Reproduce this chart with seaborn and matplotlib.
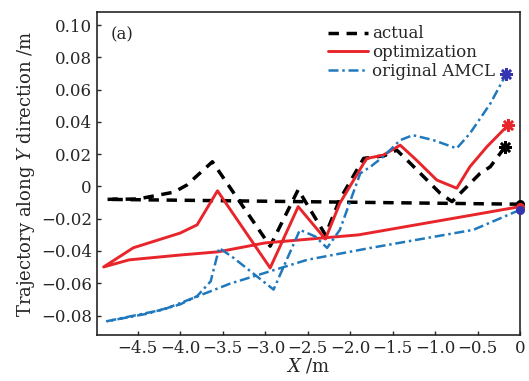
import matplotlib
matplotlib.use("Agg")
import matplotlib.pyplot as plt
import seaborn as sns

sns.set_style("ticks")
plt.rcParams["font.family"] = ["DejaVu Serif"]
plt.rcParams["mathtext.fontset"] = "dejavuserif"

# trajectories: start at x=0, go left along the straight leg, come back wiggling
actual_x = [0, -4.87, -4.5, -4.07, -3.92, -3.62, -2.94, -2.61, -2.29, -2.12,
            -1.84, -1.6, -1.45, -1.29, -0.94, -0.80, -0.47, -0.35, -0.18]
actual_y = [-0.011, -0.008, -0.0078, -0.0035, 0.0009, 0.0153, -0.037, -0.002, -0.030, -0.008,
            0.0174, 0.019, 0.0225, 0.0143, -0.0042, -0.0094, 0.0081, 0.0122, 0.0242]

optim_x = [0, -0.55, -1.9, -3.0, -3.55, -4.0, -4.6, -4.9,
           -4.55, -4.0, -3.80, -3.56, -3.38, -2.94, -2.61, -2.29, -2.12, -1.84, -1.80,
           -1.61, -1.41, -1.22, -0.98, -0.745, -0.59, -0.39, -0.14]
optim_y = [-0.0125, -0.0176, -0.030, -0.035, -0.0405, -0.0425, -0.0455, -0.0499,
           -0.038, -0.0289, -0.0238, -0.0027, -0.0166, -0.0505, -0.0125, -0.0326, -0.0104, 0.0143, 0.0174,
           0.0194, 0.0256, 0.0164, 0.004, -0.0011, 0.0122, 0.0246, 0.038]

amcl_x = [0, -0.55, -1.76, -2.5, -3.41, -4.19, -4.86,
          -4.39, -4.0, -3.8, -3.64, -3.54, -3.37, -2.90, -2.59, -2.41, -2.27, -2.12,
          -1.88, -1.76, -1.61, -1.41, -1.26, -1.02, -0.745, -0.59, -0.35, -0.16]
amcl_y = [-0.0145, -0.0269, -0.0381, -0.0454, -0.0602, -0.0762, -0.0835,
          -0.0789, -0.0731, -0.068, -0.0588, -0.0381, -0.0443, -0.0639, -0.0269, -0.031, -0.0381, -0.0269,
          0.0081, 0.0122, 0.0184, 0.0287, 0.0318, 0.0287, 0.0236, 0.0328, 0.0513, 0.0699]

x_ticks = [-4.5, -4.0, -3.5, -3.0, -2.5, -2.0, -1.5, -1.0, -0.5, 0]
x_labels = ["\u22124.5", "\u22124.0", "\u22123.5", "\u22123.0", "\u22122.5",
            "\u22122.0", "\u22121.5", "\u22121.0", "\u22120.5", "0"]
y_ticks = [-0.08, -0.06, -0.04, -0.02, 0, 0.02, 0.04, 0.06, 0.08, 0.10]
y_labels = ["\u22120.08", "\u22120.06", "\u22120.04", "\u22120.02", "0",
            "0.02", "0.04", "0.06", "0.08", "0.10"]

red = "#e8252a"
blue = "#2179bd"
star_blue = "#3535b0"

fig, ax = plt.subplots(figsize=(5.29, 3.81), dpi=100)
fig.subplots_adjust(left=0.183, right=0.983, top=0.968, bottom=0.121)

sns.lineplot(x=actual_x, y=actual_y, sort=False, estimator=None, ax=ax,
             color="black", linestyle=(0, (3, 2.2)), linewidth=2.5, label="actual")
sns.lineplot(x=optim_x, y=optim_y, sort=False, estimator=None, ax=ax,
             color=red, linestyle="-", linewidth=2.1, label="optimization")
sns.lineplot(x=amcl_x, y=amcl_y, sort=False, estimator=None, ax=ax,
             color=blue, linestyle=(0, (4, 1.5, 1, 1.5)), linewidth=1.8, label="original AMCL")

# start dots and end stars
for xs, ys, c in [(actual_x, actual_y, "black"),
                  (optim_x, optim_y, red),
                  (amcl_x, amcl_y, star_blue)]:
    ax.plot(xs[0], ys[0], "o", color=c, markersize=5.5, clip_on=False, zorder=5)
    ax.plot(xs[-1], ys[-1], marker=(8, 2, 0), color=c, markersize=9,
            markeredgewidth=1.8, clip_on=False, zorder=5)

ax.set_xlim(-4.98, 0)
ax.set_ylim(-0.092, 0.108)
ax.set_xticks(x_ticks)
ax.set_xticklabels(x_labels)
ax.set_yticks(y_ticks)
ax.set_yticklabels(y_labels)
ax.tick_params(direction="in", length=3, labelsize=12, width=1)
for s in ax.spines.values():
    s.set_linewidth(1.2)

ax.set_xlabel("$X$ /m", fontsize=13, labelpad=0)
ax.set_ylabel("Trajectory along $Y$ direction /m", fontsize=13, labelpad=3)
ax.text(0.033, 0.915, "(a)", transform=ax.transAxes, fontsize=12)

ax.legend(loc="upper right", frameon=False, fontsize=12, handlelength=2.4,
          handletextpad=0.25, labelspacing=0.1, borderaxespad=0.1,
          bbox_to_anchor=(0.96, 0.985))

fig.savefig("out.png", dpi=100)
